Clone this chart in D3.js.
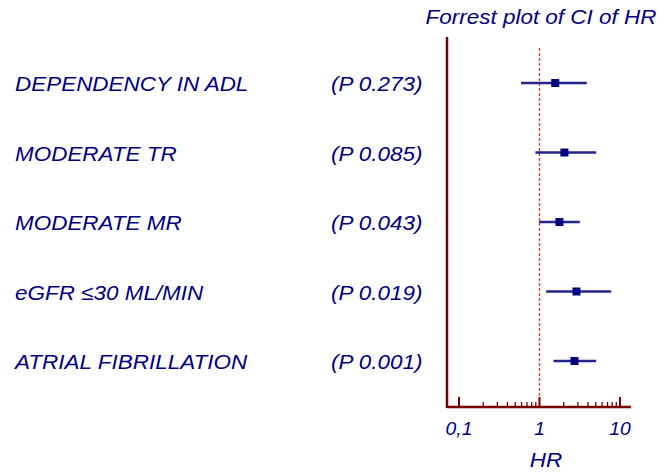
<!DOCTYPE html>
<html>
<head>
<meta charset="utf-8">
<script src="https://cdn.jsdelivr.net/npm/d3@7"></script>
<style>
  body { margin: 0; background: #fff; }
  svg { display: block; }
  text { font-family: "Liberation Sans", Arial, Helvetica, sans-serif; font-style: italic; fill: #000080; }
</style>
</head>
<body>
<svg id="canvas" width="672" height="473"></svg>
<script>
// data
var factors = ["DEPENDENCY IN ADL", "MODERATE TR", "MODERATE MR", "eGFR \u226430 ML/MIN", "ATRIAL FIBRILLATION"];
var pValues = ["(P 0.273)", "(P 0.085)", "(P 0.043)", "(P 0.019)", "(P 0.001)"];
var hr = [1.57, 2.04, 1.77, 2.88, 2.72];
var ciLow = [0.59, 0.89, 0.99, 1.21, 1.49];
var ciHigh = [3.87, 5.06, 3.17, 7.77, 5.06];
var majorTicks = [0.1, 1, 10];
var majorLabels = ["0,1", "1", "10"];
var minorTicks = [0.2, 0.3, 0.4, 0.5, 0.6, 0.7, 0.8, 0.9, 2, 3, 4, 5, 6, 7, 8, 9];

var svg = d3.select('#canvas');
var axisColor = '#7a0000', navy = '#000080';
var axisY = 407, topY = 37;
var stretch = 1.07; // the original text is a bit wider than Liberation Sans

var x = d3.scaleLog().domain([0.071, 13.7]).range([447, 631]);
var y = d3.scalePoint().domain(factors).range([83, 361]);

// helper: text with horizontal stretch
function label(tx, ty, size, anchor, str) {
  return svg.append('text')
    .attr('transform', 'translate(' + tx + ',' + ty + ') scale(' + stretch + ',1)')
    .attr('text-anchor', anchor)
    .style('font-size', size + 'px')
    .text(str);
}

// title
label(541, 24, 21, 'middle', 'Forrest plot of CI of HR');

// reference line at HR = 1
var refX = Math.round(x(1)) + 0.5;
svg.append('line')
  .attr('x1', refX).attr('x2', refX).attr('y1', 48).attr('y2', axisY)
  .attr('stroke', '#ff3030').attr('stroke-width', 1.3).attr('stroke-dasharray', '3,2');

// axes
svg.append('line').attr('x1', x.range()[0]).attr('x2', x.range()[0]).attr('y1', topY).attr('y2', axisY + 1)
  .attr('stroke', axisColor).attr('stroke-width', 2.5);
svg.append('line').attr('x1', x.range()[0]).attr('x2', x.range()[1]).attr('y1', axisY).attr('y2', axisY)
  .attr('stroke', axisColor).attr('stroke-width', 2.5);

svg.selectAll('.minor').data(minorTicks).enter().append('line')
  .attr('x1', d => x(d)).attr('x2', d => x(d)).attr('y1', axisY).attr('y2', axisY - 5)
  .attr('stroke', axisColor).attr('stroke-width', 1.3);
svg.selectAll('.major').data(majorTicks).enter().append('line')
  .attr('x1', d => x(d)).attr('x2', d => x(d)).attr('y1', axisY).attr('y2', axisY - 10)
  .attr('stroke', axisColor).attr('stroke-width', 2);
majorTicks.forEach((d, i) => label(x(d), 435, 18, 'middle', majorLabels[i]));

label(546, 467, 21, 'middle', 'HR');

// row labels
factors.forEach(d => label(15, y(d) + 8, 21, 'start', d));
pValues.forEach((d, i) => label(331, y(factors[i]) + 8, 21, 'start', d));

// CI lines and markers
svg.selectAll('.ci').data(factors).enter().append('line')
  .attr('x1', (d, i) => x(ciLow[i])).attr('x2', (d, i) => x(ciHigh[i]))
  .attr('y1', d => y(d)).attr('y2', d => y(d))
  .attr('stroke', '#24248c').attr('stroke-width', 2.5);
svg.selectAll('.pt').data(factors).enter().append('rect')
  .attr('x', (d, i) => x(hr[i]) - 4).attr('y', d => y(d) - 4)
  .attr('width', 8).attr('height', 8).attr('fill', navy);
</script>
</body>
</html>
